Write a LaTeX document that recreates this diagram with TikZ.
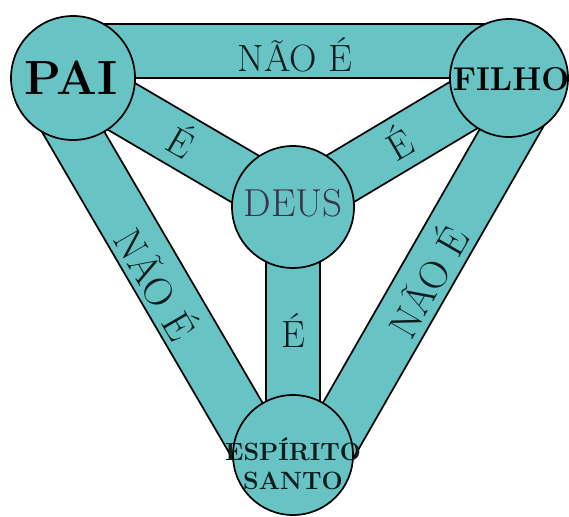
\documentclass[tikz,border=0pt]{standalone}
\usepackage{fontspec}
\usetikzlibrary{calc}
\definecolor{tealfill}{RGB}{104,195,196}
\definecolor{ink}{RGB}{12,28,30}
\definecolor{deusink}{RGB}{60,50,74}
\begin{document}
\begin{tikzpicture}[x=1pt,y=-1pt,
  band/.style={fill=tealfill, draw=black, line width=1.7pt, line join=round},
  disc/.style={circle, fill=tealfill, draw=black, line width=1.7pt, inner sep=0pt},
  lbl/.style={text=ink, inner sep=0pt},
  widefont/.style={font=\fontsize{#1}{#1}\selectfont\addfontfeature{LetterSpace=8}}]
\useasboundingbox (0,0) rectangle (569,516);
\coordinate (P) at (73,78);
\coordinate (F) at (509,78);
\coordinate (D) at (293,207);
\coordinate (S) at (293,455);
% outer bands (inner edge on the line of centres, 54 wide outward)
\draw[band] (P) -- (F) -- ($(F)!54pt!-90:(P)$) -- ($(P)!54pt!90:(F)$) -- cycle;
\draw[band] (P) -- (S) -- ($(S)!54pt!90:(P)$) -- ($(P)!54pt!-90:(S)$) -- cycle;
\draw[band] (F) -- (S) -- ($(S)!54pt!-90:(F)$) -- ($(F)!54pt!90:(S)$) -- cycle;
% spokes to DEUS
\foreach \a in {P,F,S}
  \draw[band] ($(\a)!27pt!90:(D)$) -- ($(D)!27pt!-90:(\a)$) -- ($(D)!27pt!90:(\a)$) -- ($(\a)!27pt!-90:(D)$) -- cycle;
% circles
\node[disc, minimum size=124pt] (pai) at (P) {};
\node[disc, minimum size=118pt] (filho) at (F) {};
\node[disc, minimum size=122pt] (deus) at (D) {};
\node[disc, minimum size=120pt] (esp) at (S) {};
% circle texts
\node[lbl, text=black, font=\fontsize{48}{48}\selectfont\bfseries] (tpai) at (71,78) {PAI};
\node[lbl, text=black!90!ink, font=\fontsize{33}{33}\selectfont\bfseries] (tfilho) at (511,79) {FILHO};
\node[lbl, text=deusink, font=\fontsize{39}{39}\selectfont] (tdeus) at (293,203) {DEUS};
\node[lbl, align=center, font=\fontsize{25}{29}\selectfont\bfseries] (tesp) at (293,464) {ESPÍRITO\\SANTO};
% band texts
\node[lbl, widefont=38] (ltop) at (295,55) {NÃO É};
\node[lbl, rotate=-59.7, widefont=40] (lleft) at (158,283) {NÃO É};
\node[lbl, rotate=60, widefont=40] (lright) at (426,281) {NÃO É};
\node[lbl, rotate=-30, font=\fontsize{38}{38}\selectfont] (lpd) at (182,140) {É};
\node[lbl, rotate=30, font=\fontsize{38}{38}\selectfont] (lfd) at (398,142) {É};
\node[lbl, font=\fontsize{38}{38}\selectfont] (lsd) at (293,330) {É};
\end{tikzpicture}
\end{document}
